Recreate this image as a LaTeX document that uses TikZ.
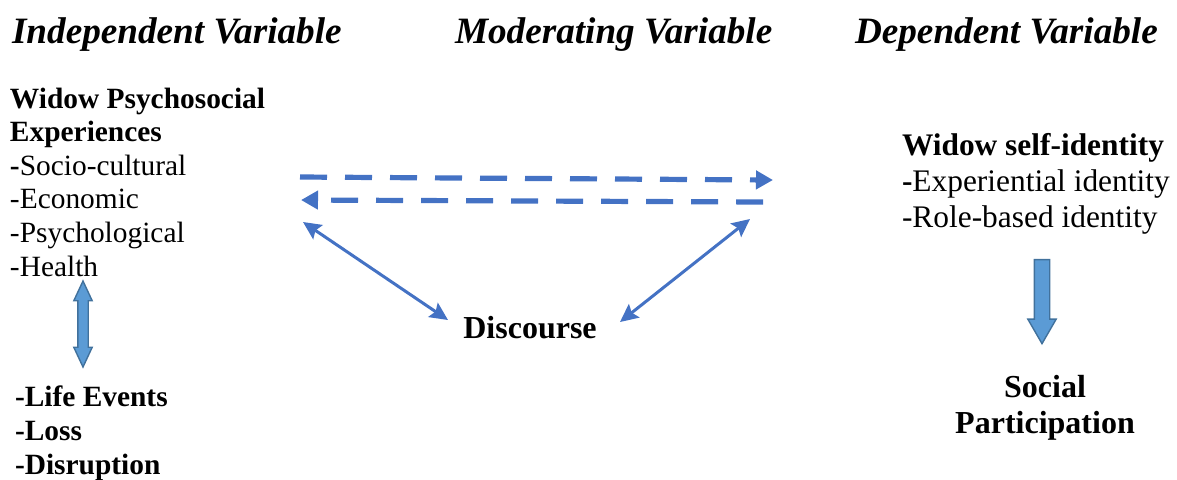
\documentclass[tikz,border=0pt]{standalone}
\usepackage{fontspec}
\setmainfont{Liberation Serif}
\usetikzlibrary{arrows.meta,shapes.arrows}
\definecolor{linkblue}{HTML}{4472C4}
\definecolor{fillblue}{HTML}{5B9BD5}
\definecolor{edgeblue}{HTML}{41719C}

\begin{document}
\begin{tikzpicture}[
  x=0.5pt, y=-0.5pt,
  every node/.style={
    inner sep=0pt, outer sep=0pt,
  },
  heading/.style={
    anchor=base west, font=\fontsize{18.6}{22}\selectfont\bfseries\itshape
  },
  block/.style={
    anchor=base west, align=left
  },
  dashlink/.style={
    draw=linkblue, line width=2.6pt, dash pattern=on 13.5pt off 9pt,
    -{Triangle[length=8.5pt,width=9pt]}
  },
  link/.style={
    draw=linkblue, line width=1.5pt,
    {Stealth[length=9pt,width=8.5pt,inset=1.5pt]}-{Stealth[length=9pt,width=8.5pt,inset=1.5pt]}
  },
  fatarrow/.style={
    fill=fillblue, draw=edgeblue, line width=0.7pt, inner xsep=0pt
  }
  ]
  \useasboundingbox (0,0) rectangle (1177,479);

  \node[heading] (indep) at (12,43) {Independent Variable};
  \node[heading] (moder) at (455,43) {Moderating Variable};
  \node[heading] (depen) at (855,43) {Dependent Variable};

  \node[block, font=\fontsize{14.7}{16.8}\selectfont] (psycho) at (10,276)
    {\textbf{Widow Psychosocial}\\\textbf{Experiences}\\\textbf{-}Socio-cultural\\-Economic\\-Psychological\\-Health};
  \node[block, font=\fontsize{14.7}{17}\selectfont\bfseries] (events) at (15,474)
    {-Life Events\\-Loss\\-Disruption};
  \node[block, font=\fontsize{15.7}{18}\selectfont] (identity) at (902,227)
    {\textbf{Widow self-identity}\\\textbf{-}Experiential identity\\-Role-based identity};
  \node[anchor=base, align=center, font=\fontsize{16}{18}\selectfont\bfseries] (partic) at (1045,433)
    {Social\\Participation};
  \node[anchor=base, font=\fontsize{16}{19}\selectfont\bfseries] (disc) at (530,338) {Discourse};

  \node[fatarrow, double arrow, rotate=90, minimum height=43pt, minimum width=8.5pt, inner ysep=2.25pt,
    double arrow head extend=2pt, double arrow tip angle=50] (lifearrow) at (83,324) {};
  \node[fatarrow, single arrow, rotate=-90, minimum height=42pt, minimum width=13.5pt, inner ysep=3.5pt,
    single arrow head extend=3.25pt, single arrow tip angle=60] (downarrow) at (1042,295) {};

  \coordinate (topleft) at (300,177);
  \coordinate (topright) at (773,180);
  \coordinate (botright) at (763,202);
  \coordinate (botleft) at (301,200);
  \coordinate (diagleft) at (303,222);
  \coordinate (diagright) at (750,219);
  \coordinate (discleft) at (448,320);
  \coordinate (discright) at (620,322);

  \draw[dashlink] (topleft) -- (topright);
  \draw[dashlink] (botright) -- (botleft);
  \draw[link] (diagleft) -- (discleft);
  \draw[link] (diagright) -- (discright);
\end{tikzpicture}
\end{document}
